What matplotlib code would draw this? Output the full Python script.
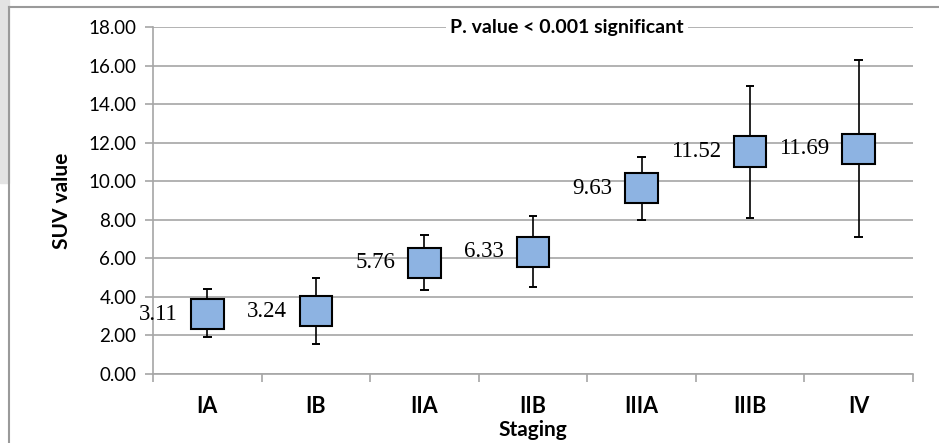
import matplotlib.pyplot as plt
from matplotlib.lines import Line2D
from matplotlib.patches import Rectangle

# stage data
stages = ['IA', 'IB', 'IIA', 'IIB', 'IIIA', 'IIIB', 'IV']
means = [3.11, 3.24, 5.76, 6.33, 9.63, 11.52, 11.69]
box_low = [2.32, 2.49, 4.96, 5.53, 8.87, 10.72, 10.88]
box_high = [3.90, 4.06, 6.55, 7.11, 10.44, 12.33, 12.46]
whisk_low = [1.90, 1.56, 4.36, 4.50, 8.00, 8.09, 7.11]
whisk_high = [4.39, 4.96, 7.23, 8.21, 11.27, 14.95, 16.30]
yticks = [0, 2, 4, 6, 8, 10, 12, 14, 16, 18]

plt.rcParams['font.family'] = ['Lato', 'DejaVu Sans']

fig = plt.figure(figsize=(9.39, 4.43), dpi=100)
ax = fig.add_axes([153 / 939, 1 - 374 / 443, 760 / 939, 347 / 443])

x = list(range(len(stages)))
grid_c = '#a6a6a6'

# whiskers behind the boxes
ax.vlines(x, whisk_low, whisk_high, color='black', lw=1.2, zorder=2)
ax.hlines(whisk_low, [i - 0.04 for i in x], [i + 0.04 for i in x], color='black', lw=1.4, zorder=2)
ax.hlines(whisk_high, [i - 0.04 for i in x], [i + 0.04 for i in x], color='black', lw=1.4, zorder=2)

# boxes
heights = [h - l for h, l in zip(box_high, box_low)]
ax.bar(x, heights, bottom=box_low, width=0.3, color='#8db3e2',
       edgecolor='black', linewidth=1.5, zorder=3)

# mean labels left of each box
for i, m in zip(x, means):
    ax.text(i - 0.27, m, f'{m:.2f}', ha='right', va='center', fontsize=16.5,
            family='Liberation Serif', zorder=4)

ax.set_xlim(-0.5, len(stages) - 0.5)
ax.set_ylim(0, 18)
ax.set_yticks(yticks)
ax.set_yticklabels([f'{v:.2f}' for v in yticks], fontsize=13.5)
ax.yaxis.grid(True, color=grid_c, lw=1.2)
ax.set_axisbelow(True)

ax.set_xticks(x)
ax.set_xticklabels(stages, fontsize=15.5, fontweight='bold')
ax.tick_params(axis='x', length=0, pad=16)
ax.tick_params(axis='y', length=6, color=grid_c, width=1.2, pad=6)
# minor ticks between categories
ax.set_xticks([i - 0.5 for i in range(len(stages) + 1)], minor=True)
ax.tick_params(axis='x', which='minor', length=6, color=grid_c, width=1.2)

for s in ['top', 'right']:
    ax.spines[s].set_visible(False)
ax.spines['left'].set_color(grid_c)
ax.spines['left'].set_linewidth(1.2)
ax.spines['bottom'].set_color(grid_c)
ax.spines['bottom'].set_linewidth(1.2)

ax.set_xlabel('Staging', fontsize=15, fontweight='bold', labelpad=2)
ax.set_ylabel('SUV value', fontsize=15, fontweight='bold', labelpad=12)

ax.text(0.545, 1.0, 'P. value < 0.001 significant', transform=ax.transAxes,
        ha='center', va='center', fontsize=14, fontweight='bold', zorder=5,
        bbox=dict(facecolor='white', edgecolor='none', pad=3))

# outer frame and grey strip at the top left
fig.patches.append(Rectangle((0, 1 - 183 / 443), 9 / 939, 183 / 443,
                             transform=fig.transFigure, color='#e3e3e3', zorder=0))
fig.lines.append(Line2D([9 / 939, 9 / 939], [0, 1 - 7 / 443], transform=fig.transFigure,
                        color='#9a9a9a', lw=1.5))
fig.lines.append(Line2D([9 / 939, 1], [1 - 7 / 443, 1 - 7 / 443], transform=fig.transFigure,
                        color='#9a9a9a', lw=1.5))

fig.savefig('out.png', dpi=100)
